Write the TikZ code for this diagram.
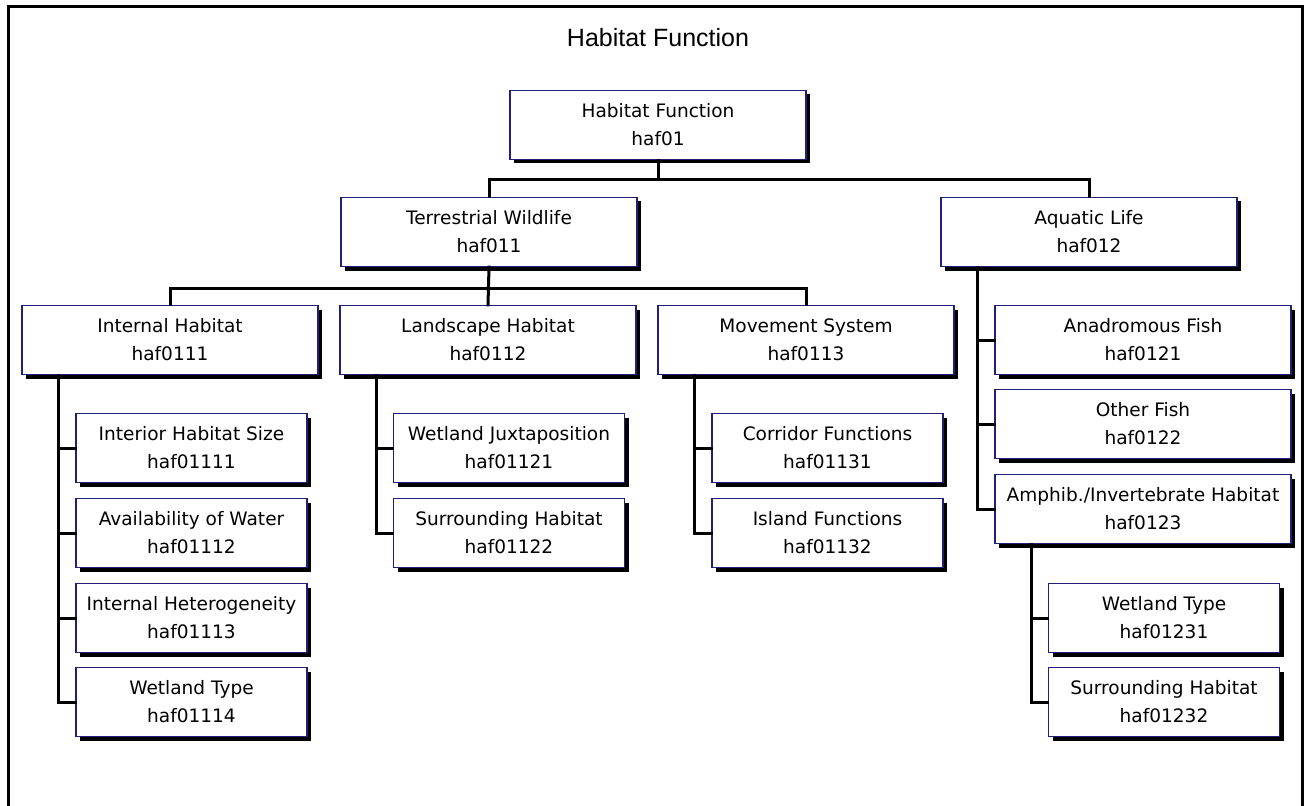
\documentclass[tikz,border=0pt]{standalone}
\usepackage{fontspec}
\setmainfont{DejaVu Sans}
\newfontfamily\titlefont{Liberation Sans}
\usetikzlibrary{shadows}
\definecolor{boxline}{RGB}{32,32,120}
\begin{document}
\begin{tikzpicture}[x=0.75pt,y=-0.75pt,
  box/.style={draw=boxline,line width=1pt,fill=white,align=center,
    inner sep=0pt,minimum height=51.75pt,
    font=\fontsize{13.9}{21}\selectfont,
    drop shadow={shadow xshift=3pt,shadow yshift=-3pt,opacity=1,fill=black}},
  wide/.style={box,minimum width=222pt},
  narrow/.style={box,minimum width=173.25pt},
  link/.style={draw=black,line width=2.25pt,line cap=rect}]
\useasboundingbox (0,0) rectangle (1307,806);
% outer frame, open at the bottom edge
\draw[line width=2.25pt] (8,820) -- (8,7) -- (1302,7) -- (1302,820);
\node[font=\titlefont\fontsize{18.75}{22}\selectfont] (title) at (658,38) {Habitat Function};

% levels 0 and 1
\node[wide] (haf01)  at (658,125)  {Habitat Function\\haf01};
\node[wide] (haf011) at (489,232)  {Terrestrial Wildlife\\haf011};
\node[wide] (haf012) at (1089,232) {Aquatic Life\\haf012};

% level 2, terrestrial branch
\node[wide] (haf0111) at (170,340) {Internal Habitat\\haf0111};
\node[wide] (haf0112) at (488,340) {Landscape Habitat\\haf0112};
\node[wide] (haf0113) at (806,340) {Movement System\\haf0113};

% aquatic branch
\node[wide] (haf0121) at (1143,340) {Anadromous Fish\\haf0121};
\node[wide] (haf0122) at (1143,424) {Other Fish\\haf0122};
\node[wide] (haf0123) at (1143,509) {Amphib./Invertebrate Habitat\\haf0123};

% leaves
\node[narrow] (haf01111) at (191.5,448) {Interior Habitat Size\\haf01111};
\node[narrow] (haf01112) at (191.5,533) {Availability of Water\\haf01112};
\node[narrow] (haf01113) at (191.5,618) {Internal Heterogeneity\\haf01113};
\node[narrow] (haf01114) at (191.5,702) {Wetland Type\\haf01114};

\node[narrow] (haf01121) at (509,448) {Wetland Juxtaposition\\haf01121};
\node[narrow] (haf01122) at (509,533) {Surrounding Habitat\\haf01122};

\node[narrow] (haf01131) at (827.5,448) {Corridor Functions\\haf01131};
\node[narrow] (haf01132) at (827.5,533) {Island Functions\\haf01132};

\node[narrow] (haf01231) at (1164,618) {Wetland Type\\haf01231};
\node[narrow] (haf01232) at (1164,702) {Surrounding Habitat\\haf01232};

% bus lines between levels
\coordinate (busA) at (0,180);
\coordinate (busB) at (0,288);

\begin{scope}[on background layer/.try]
\path[link] (haf01.south) -- (haf01.south |- busA);
\path[link] (haf011.north) -- (haf011.north |- busA) -| (haf012.north);
\path[link] (haf011.south) -- (haf0112.north);
\path[link] (haf0111.north) -- (haf0111.north |- busB) -| (haf0113.north);

% side rails from parent to children
\foreach \p/\kids in {haf0111/{haf01111,haf01112,haf01113,haf01114},
                      haf0112/{haf01121,haf01122},
                      haf0113/{haf01131,haf01132},
                      haf012/{haf0121,haf0122,haf0123},
                      haf0123/{haf01231,haf01232}}{
  \foreach \k in \kids {
    \path[link] ([xshift=27.75pt]\p.south west) |- (\k.west);
  }
}
\end{scope}
\end{tikzpicture}
\end{document}
